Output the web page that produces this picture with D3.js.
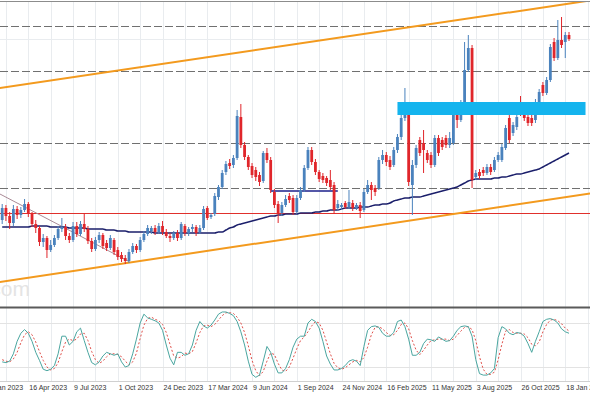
<!DOCTYPE html>
<html>
<head>
<meta charset="utf-8">
<script src="https://cdn.jsdelivr.net/npm/d3@7"></script>
<style>
html, body { margin: 0; padding: 0; background: #fff; }
svg { display: block; }
text { font-family: "Liberation Sans", Arial, sans-serif; }
</style>
</head>
<body>
<div id="chart"></div>
<script>
// weekly candles, 26 Feb 2023 .. 25 Jan 2026 (index points)
var candleOpen = [180,192,184,177,191,185,190,196,186,176, 172,158,162,150,155,162,171,173,164,160,
  174,166,176,171,159,151,160,165,157,152, 160,150,145,142,139,148,154,150,160,166,
  169,172,168,174,168,164,162,167,162,174, 167,171,173,168,172,192,183,186,203,213,
  228,237,235,242,283,255,243,234,230,225, 219,247,240,208,196,187,195,204,202,188,
  202,210,232,250,238,228,224,222,220,215, 192,193,197,193,197,192,195,190,208,215,
  212,212,240,245,240,235,250,263,282,290, 215,235,260,257,247,245,235,262,260,262,
  255,257,285,280,294,330,352,223,228,230, 227,233,230,240,240,252,282,267,273,293,
  287,283,282,280,298,315,307,320,358,342, 360,358,365];
var candleClose = [192,184,177,191,185,190,196,186,176,172, 158,162,150,155,162,171,173,164,160,174,
  166,176,171,159,151,160,165,154,152,162, 148,143,141,139,148,154,150,160,166,172,
  172,168,174,168,164,162,167,162,176,167, 171,173,167,172,191,182,185,204,213,227,
  236,234,242,284,255,243,233,225,223,218, 247,240,210,195,187,195,201,200,188,202,
  210,232,250,238,228,221,220,217,213,190, 196,195,193,198,192,195,189,208,215,210,
  208,240,245,238,233,250,263,282,292,218, 235,252,247,250,240,235,262,247,253,255,
  262,287,280,295,330,352,220,227,224,227, 233,228,240,245,253,272,260,275,283,287,
  282,277,277,298,308,307,320,353,342,360, 355,365,361];
var candleHigh = [196,195,188,195,194,193,201,198,188,180, 174,166,164,160,165,174,182,176,167,178,
  178,179,187,174,162,163,168,167,160,165, 162,153,148,145,151,157,156,163,169,175,
  174,175,177,179,171,167,169,170,178,176, 173,176,175,175,194,194,187,207,215,230,
  239,241,245,290,296,258,245,237,233,228, 249,252,243,211,199,198,205,207,205,205,
  213,235,253,253,241,230,227,224,230,218, 200,197,199,210,200,197,198,211,220,218,
  215,243,250,248,244,253,266,285,312,296, 240,255,263,270,250,248,265,265,263,265,
  268,290,288,300,358,365,355,230,231,233, 236,236,243,248,256,275,285,278,286,304,
  290,285,285,301,311,318,323,356,362,380, 383,368,368];
var candleLow = [176,179,171,174,181,182,188,183,173,167, 154,153,142,148,153,160,168,160,157,158,
  163,164,168,156,148,149,157,151,149,150, 145,140,138,136,137,146,147,148,158,164,
  166,165,166,165,162,158,160,159,160,164, 164,168,164,166,170,180,181,184,200,211,
  225,231,232,240,252,240,230,222,219,214, 217,237,207,192,177,184,193,197,185,186,
  200,208,230,235,225,218,217,214,210,186, 189,190,191,191,189,190,182,188,206,200,
  204,210,236,234,230,233,247,260,279,214, 185,232,244,227,237,232,233,244,250,252,
  252,255,272,278,292,328,212,220,221,224, 225,225,228,238,238,250,257,264,270,284,
  279,274,274,277,296,304,305,318,339,340, 352,342,359];

// moving average
var maValues = [173,173,173,173,173,173,173,173,174,174, 174,174,174,173,173,173,173,173,172,172,
  172,172,172,171,171,171,171,171,170,170, 170,169,169,169,168,168,168,168,168,168,
  168,167,167,167,167,167,167,167,167,167, 167,167,167,167,167,167,167,167,168,168,
  170,172,173,175,176,177,178,179,180,181, 182,183,184,184,185,185,186,186,186,186,
  187,187,187,187,188,188,189,189,190,190, 190,191,192,192,192,192,193,193,193,194,
  195,195,196,196,197,199,200,201,202,202, 203,203,203,204,205,206,207,208,209,210,
  211,212,213,215,217,219,220,221,221,221, 221,221,222,222,223,223,224,225,226,226,
  227,228,229,230,231,233,235,237,239,241, 243,245,247];

// stochastic %K and %D
var stochK = [27,26,28,38,55,66,71,66,55,40, 29,17,15,17,22,38,62,62,50,55,
  68,73,56,40,26,23,27,35,40,38, 36,38,27,20,22,38,58,80,92,87,
  85,83,80,70,50,32,23,40,40,36, 38,50,70,82,76,73,77,84,92,95,
  95,93,90,82,68,50,28,10,6,9, 28,48,40,24,12,12,18,30,47,58,
  62,62,80,85,82,73,55,35,24,16, 16,18,22,28,30,28,22,48,70,75,
  76,74,66,62,62,67,82,84,75,58, 36,36,40,52,58,57,55,61,58,55,
  56,62,70,75,76,75,62,30,11,9, 9,12,18,60,75,72,66,64,67,66,
  62,52,40,55,68,82,85,86,84,80, 72,68,66];
var stochD = [30,28,27,31,40,53,64,68,64,54, 41,29,20,16,18,26,41,54,58,56,
  58,65,66,56,41,30,25,28,34,38, 38,37,34,28,23,27,39,59,77,86,
  88,85,83,78,67,51,35,32,34,39, 38,41,53,67,76,77,75,78,84,90,
  94,94,93,88,80,67,49,29,15,8, 14,28,39,37,25,16,14,20,32,45,
  56,61,68,76,82,80,70,54,38,25, 19,17,19,23,27,29,27,33,47,64,
  74,75,72,67,63,64,70,78,80,72, 56,43,37,43,50,56,57,58,58,58,
  56,58,63,69,74,75,71,56,34,17, 10,10,13,30,51,69,71,67,66,66,
  65,60,51,49,54,68,78,84,85,83, 79,73,69];

// horizontal levels and drawings (index points)
var dashedLevels = [374, 329, 257, 212];
var redLevel = 187;
var gridLevels = [361];
var channelTop = [[0, 312.3], [152, 396.4]];
var channelBottom = [[0, 118.3], [152, 203.4]];
var fallingLine = [[0, 204.8], [34, 138.5]];
var navySegment = [[72, 209], [90, 209]];
var zoneBox = { start: new Date(2025, 2, 9), end: new Date(2026, 1, 25), low: 285, high: 298 };

var tickDates = ["2023-01-22","2023-04-16","2023-07-09","2023-10-01","2023-12-24","2024-03-17",
  "2024-06-09","2024-09-01","2024-11-24","2025-02-16","2025-05-11","2025-08-03","2025-10-26","2026-01-18"];

var width = 590, height = 393;
var firstWeek = new Date(2023, 1, 26);
var weeks = d3.timeWeek.range(firstWeek, d3.timeWeek.offset(firstWeek, candleOpen.length));
var parse = d3.timeParse("%Y-%m-%d");
var ticks = tickDates.map(parse);
var fmt = d3.timeFormat("%-d %b %Y");

var x = d3.scaleTime().domain([weeks[0], weeks[weeks.length - 1]]).range([2.2, 569]);
var y = d3.scaleLinear().domain([93, 400]).range([307, 0]);
var yOsc = d3.scaleLinear().domain([0, 100]).range([381.7, 308.3]);

var svg = d3.select("#chart").append("svg")
  .attr("width", width)
  .attr("height", height);

svg.append("rect").attr("width", width).attr("height", height).attr("fill", "#fff");

var defs = svg.append("defs");
defs.append("clipPath").attr("id", "mainClip")
  .append("rect").attr("x", 0).attr("y", 2).attr("width", width).attr("height", 305);
defs.append("clipPath").attr("id", "oscClip")
  .append("rect").attr("x", 0).attr("y", 308).attr("width", width).attr("height", 74);

// vertical grid every 6 weeks
var vgrid = [];
ticks.forEach(function(t) {
  vgrid.push(t);
  vgrid.push(d3.timeWeek.offset(t, 6));
});
svg.append("g").selectAll("line").data(vgrid).enter().append("line")
  .attr("x1", function(d) { return Math.round(x(d)) + 0.5; })
  .attr("x2", function(d) { return Math.round(x(d)) + 0.5; })
  .attr("y1", 2).attr("y2", 381)
  .attr("stroke", "#e9ecef").attr("stroke-width", 1);

var main = svg.append("g").attr("clip-path", "url(#mainClip)");

main.selectAll("line.hgrid").data(gridLevels).enter().append("line")
  .attr("class", "hgrid")
  .attr("x1", 0).attr("x2", width)
  .attr("y1", function(d) { return Math.round(y(d)) + 0.5; })
  .attr("y2", function(d) { return Math.round(y(d)) + 0.5; })
  .attr("stroke", "#e9ecef");

// watermark
main.append("text")
  .attr("x", 30).attr("y", 296)
  .attr("text-anchor", "end")
  .attr("font-size", 21)
  .attr("fill", "#e4e4e4")
  .text("com");

main.selectAll("line.dash").data(dashedLevels).enter().append("line")
  .attr("class", "dash")
  .attr("x1", 0).attr("x2", width)
  .attr("y1", function(d) { return Math.round(y(d)) + 0.5; })
  .attr("y2", function(d) { return Math.round(y(d)) + 0.5; })
  .attr("stroke", "#707070").attr("stroke-width", 1)
  .attr("stroke-dasharray", "8,3");

main.append("line")
  .attr("x1", 0).attr("x2", width)
  .attr("y1", Math.round(y(redLevel)) + 0.5).attr("y2", Math.round(y(redLevel)) + 0.5)
  .attr("stroke", "#e0302c").attr("stroke-width", 1);

function extend(line, left, right) {
  var x1 = x(weeks[line[0][0]]), y1 = y(line[0][1]);
  var x2 = x(weeks[line[1][0]]), y2 = y(line[1][1]);
  var s = (y2 - y1) / (x2 - x1);
  var xa = left == null ? x1 : left, xb = right == null ? x2 : right;
  return [[xa, y1 + s * (xa - x1)], [xb, y1 + s * (xb - x1)]];
}

var lineGen = d3.line();
[channelTop, channelBottom].forEach(function(l) {
  main.append("path")
    .attr("d", lineGen(extend(l, -5, 595)))
    .attr("fill", "none").attr("stroke", "#f39a1e").attr("stroke-width", 2);
});

main.append("path")
  .attr("d", lineGen(extend(fallingLine, -5, null)))
  .attr("fill", "none").attr("stroke", "#a98a96").attr("stroke-width", 1);

var maLine = d3.line()
  .x(function(d, i) { return x(weeks[i]); })
  .y(function(d) { return y(d); })
  .curve(d3.curveMonotoneX);
main.append("path")
  .attr("d", maLine(maValues))
  .attr("fill", "none").attr("stroke", "#1b1f6b").attr("stroke-width", 1.5);

main.append("line")
  .attr("x1", x(weeks[navySegment[0][0]])).attr("x2", x(weeks[navySegment[1][0]]))
  .attr("y1", y(navySegment[0][1])).attr("y2", y(navySegment[1][1]))
  .attr("stroke", "#1b1f8b").attr("stroke-width", 1.5);

// candles
var bodyW = 2.8;
var candles = main.selectAll("g.candle").data(weeks).enter().append("g").attr("class", "candle");
function col(i) { return candleClose[i] >= candleOpen[i] ? "#4a82bd" : "#e0262b"; }
candles.append("line")
  .attr("x1", function(d) { return x(d); })
  .attr("x2", function(d) { return x(d); })
  .attr("y1", function(d, i) { return y(candleHigh[i]); })
  .attr("y2", function(d, i) { return y(candleLow[i]); })
  .attr("stroke", function(d, i) { return col(i); })
  .attr("stroke-width", 1);
candles.append("rect")
  .attr("x", function(d) { return x(d) - bodyW / 2; })
  .attr("width", bodyW)
  .attr("y", function(d, i) { return y(Math.max(candleOpen[i], candleClose[i])); })
  .attr("height", function(d, i) { return Math.max(1, Math.abs(y(candleOpen[i]) - y(candleClose[i]))); })
  .attr("fill", function(d, i) { return col(i); });

main.append("rect")
  .attr("x", x(zoneBox.start)).attr("width", x(zoneBox.end) - x(zoneBox.start))
  .attr("y", y(zoneBox.high)).attr("height", y(zoneBox.low) - y(zoneBox.high))
  .attr("fill", "#14b4ee");

// frame lines
svg.append("line").attr("x1", 0).attr("x2", width).attr("y1", 1.5).attr("y2", 1.5)
  .attr("stroke", "#8c8c8c").attr("stroke-width", 1);
svg.append("line").attr("x1", 0).attr("x2", width).attr("y1", 307.5).attr("y2", 307.5)
  .attr("stroke", "#5a5a5a").attr("stroke-width", 2);

// stochastic panel
var osc = svg.append("g").attr("clip-path", "url(#oscClip)");
osc.selectAll("line.lvl").data([80, 20]).enter().append("line")
  .attr("class", "lvl")
  .attr("x1", 0).attr("x2", width)
  .attr("y1", function(d) { return Math.round(yOsc(d)) + 0.5; })
  .attr("y2", function(d) { return Math.round(yOsc(d)) + 0.5; })
  .attr("stroke", "#e3e3e3");

var oscLine = d3.line()
  .x(function(d, i) { return x(weeks[i]); })
  .y(function(d) { return yOsc(d); });
osc.append("path").attr("d", oscLine(stochD))
  .attr("fill", "none").attr("stroke", "#e0504a").attr("stroke-width", 1)
  .attr("stroke-dasharray", "2,2");
osc.append("path").attr("d", oscLine(stochK))
  .attr("fill", "none").attr("stroke", "#4aa6a0").attr("stroke-width", 1);

svg.append("line").attr("x1", 0).attr("x2", width).attr("y1", 381.5).attr("y2", 381.5)
  .attr("stroke", "#d0d0d0").attr("stroke-width", 1);

// date labels
svg.append("g").selectAll("text").data(ticks).enter().append("text")
  .attr("x", function(d) { return x(d) + 1; })
  .attr("y", 390)
  .attr("font-size", 7)
  .attr("fill", "#333")
  .text(function(d) { return fmt(d); });
</script>
</body>
</html>
